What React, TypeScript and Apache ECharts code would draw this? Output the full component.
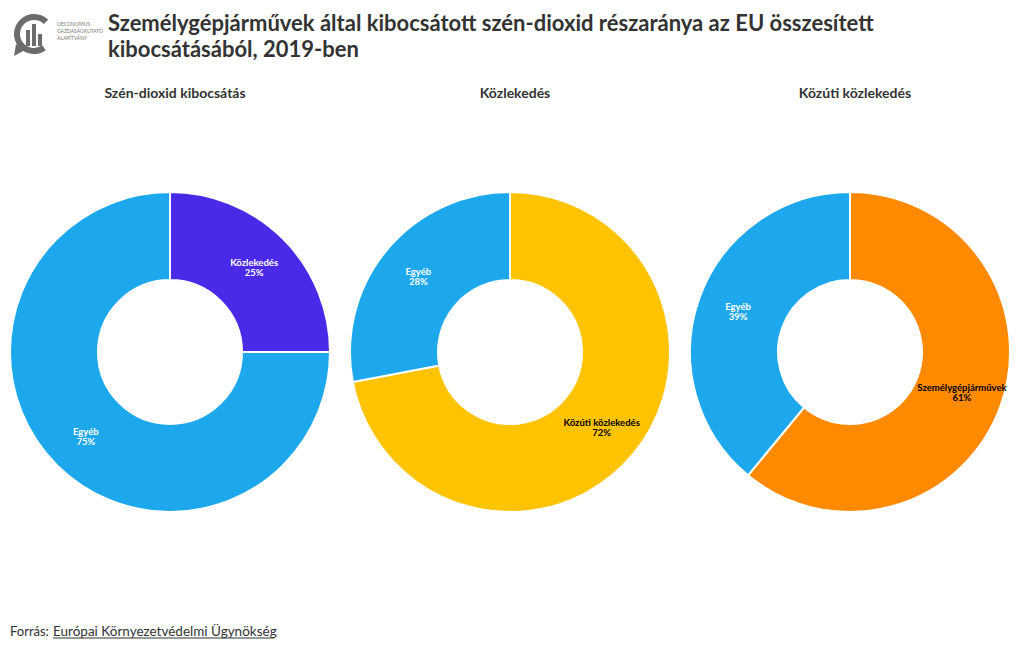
import React, { useEffect, useRef } from "react";
import * as echarts from "echarts";

const titleLines = [
  "Személygépjárművek által kibocsátott szén-dioxid részaránya az EU összesített",
  "kibocsátásából, 2019-ben",
];
const pieTitles = ["Szén-dioxid kibocsátás", "Közlekedés", "Közúti közlekedés"];
const pie1Names = ["Közlekedés", "Egyéb"];
const pie1Values = [25, 75];
const pie2Names = ["Közúti közlekedés", "Egyéb"];
const pie2Values = [72, 28];
const pie3Names = ["Személygépjárművek", "Egyéb"];
const pie3Values = [61, 39];
const sourceLabel = "Forrás: ";
const sourceLink = "Európai Környezetvédelmi Ügynökség";

const FONT = "Lato, 'Noto Sans', sans-serif";
const BLUE = "#1DA7EC";
const LOGO = "#6b6b6b";

export default function App() {
  const ref = useRef<HTMLDivElement>(null);
  useEffect(() => {
    if (!ref.current) return;
    const chart = echarts.init(ref.current, undefined, { renderer: "svg" });
    const centersX = [170, 510, 850];
    const mk = (names: string[], values: number[], colors: string[], textColors: string[], i: number) => ({
      type: "pie",
      center: [centersX[i], 352],
      radius: [72, 160],
      startAngle: 90,
      clockwise: true,
      avoidLabelOverlap: false,
      itemStyle: { borderColor: "#fff", borderWidth: 2 },
      label: {
        show: true,
        position: "inside",
        formatter: "{b}\n{d}%",
        fontFamily: FONT,
        fontWeight: "bold",
        fontSize: 9.5,
        lineHeight: 10,
      },
      labelLine: { show: false },
      emphasis: { disabled: true },
      data: names.map((n, k) => ({
        name: n,
        value: values[k],
        itemStyle: { color: colors[k] },
        label: { color: textColors[k] },
      })),
    });
    chart.setOption({
      animation: false,
      backgroundColor: "#fff",
      textStyle: { fontFamily: FONT },
      title: pieTitles.map((t, i) => ({
        text: t,
        left: centersX[i],
        top: 80,
        textAlign: "center",
        textStyle: { fontFamily: FONT, fontSize: 14, fontWeight: "bold", color: "#333" },
      })),
      graphic: [
        {
          type: "text",
          left: 108,
          top: 9,
          style: {
            text: titleLines.join("\n"),
            fontFamily: FONT,
            fontSize: 22,
            fontWeight: "bold",
            lineHeight: 26,
            fill: "#333",
          },
        },
        // logo
        {
          type: "sector",
          shape: { cx: 34, cy: 34, r0: 14, r: 20, startAngle: Math.PI * 0.3, endAngle: Math.PI * 1.75, clockwise: true },
          style: { fill: LOGO },
        },
        { type: "polygon", shape: { points: [[16, 44], [25, 50], [14, 56]] }, style: { fill: LOGO } },
        { type: "rect", shape: { x: 26, y: 30, width: 4, height: 16 }, style: { fill: LOGO } },
        { type: "rect", shape: { x: 32, y: 24, width: 4, height: 22 }, style: { fill: LOGO } },
        { type: "rect", shape: { x: 38, y: 34, width: 4, height: 12 }, style: { fill: LOGO } },
        {
          type: "text",
          left: 57,
          top: 20,
          style: {
            text: "OECONOMUS\nGAZDASÁGKUTATÓ\nALAPÍTVÁNY",
            fontFamily: FONT,
            fontSize: 5,
            lineHeight: 7,
            fill: "#777",
          },
        },
        {
          type: "text",
          left: 10,
          top: 624,
          style: {
            text: sourceLabel,
            fontFamily: FONT,
            fontSize: 13,
            fill: "#333",
          },
        },
        {
          type: "text",
          left: 53,
          top: 624,
          style: {
            text: sourceLink,
            fontFamily: FONT,
            fontSize: 13.5,
            fill: "#333",
          },
        },
        {
          type: "line",
          shape: { x1: 53, y1: 638, x2: 274, y2: 638 },
          style: { stroke: "#333", lineWidth: 1 },
        },
      ],
      series: [
        mk(pie1Names, pie1Values, ["#4A2AE8", BLUE], ["#fff", "#fff"], 0),
        mk(pie2Names, pie2Values, ["#FFC300", BLUE], ["#000", "#fff"], 1),
        mk(pie3Names, pie3Values, ["#FF8A00", BLUE], ["#000", "#fff"], 2),
      ],
    });
    return () => chart.dispose();
  }, []);
  return (
    <div
      ref={ref}
      style={{ position: "absolute", left: 0, top: 0, width: 1020, height: 650 }}
    />
  );
}
